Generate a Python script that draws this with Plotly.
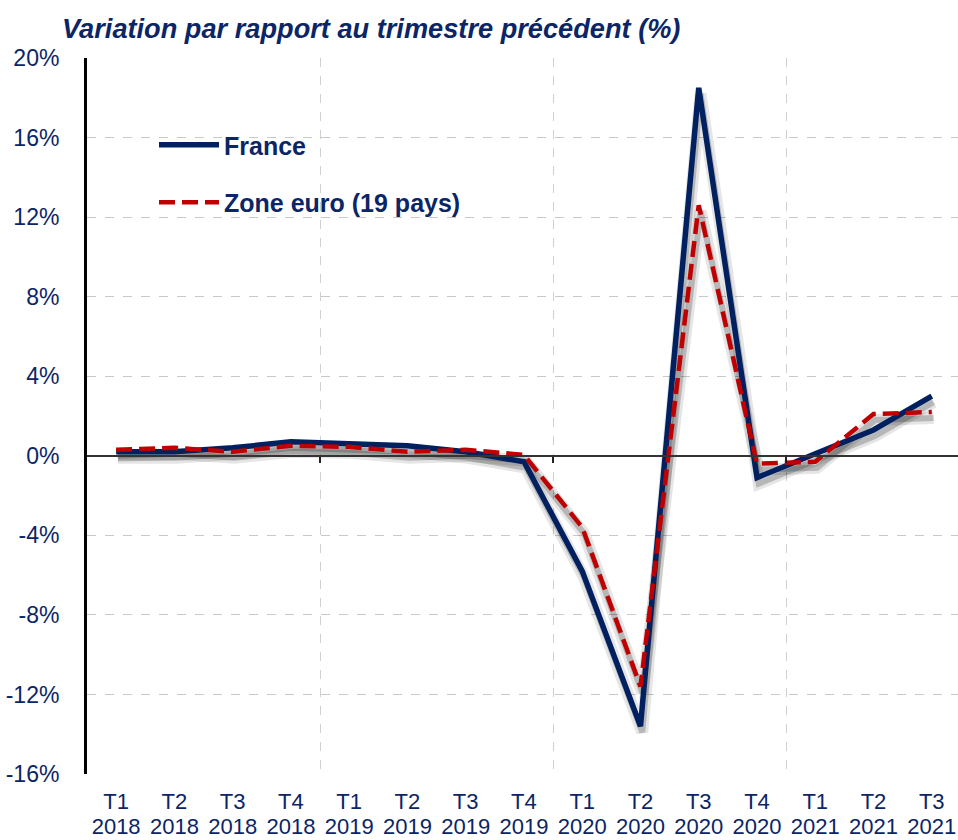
import plotly.graph_objects as go

quarters = ["T1", "T2", "T3", "T4", "T1", "T2", "T3", "T4",
            "T1", "T2", "T3", "T4", "T1", "T2", "T3"]
years = ["2018", "2018", "2018", "2018", "2019", "2019", "2019", "2019",
         "2020", "2020", "2020", "2020", "2021", "2021", "2021"]
france = [0.2, 0.2, 0.4, 0.7, 0.6, 0.5, 0.2, -0.3,
          -5.8, -13.6, 18.5, -1.1, 0.1, 1.3, 3.0]
zone_euro = [0.3, 0.4, 0.2, 0.5, 0.45, 0.2, 0.3, 0.05,
             -3.6, -11.6, 12.6, -0.4, -0.3, 2.1, 2.2]
y_ticks = [-16, -12, -8, -4, 0, 4, 8, 12, 16, 20]
year_bounds = [3.5, 7.5, 11.5]

x = list(range(len(quarters)))

NAVY = "#0B2566"
LINE_NAVY = "#002060"
RED = "#C00000"
FONT = "Liberation Sans, Arial, sans-serif"

fig = go.Figure()

# soft drop shadows (two layers to imitate blur)
for vals in (france, zone_euro):
    fig.add_trace(go.Scatter(
        x=[v + 0.03 for v in x], y=[v - 0.3 for v in vals], mode="lines",
        line=dict(color="rgba(0,0,0,0.10)", width=12), hoverinfo="skip",
        showlegend=False))
    fig.add_trace(go.Scatter(
        x=[v + 0.03 for v in x], y=[v - 0.3 for v in vals], mode="lines",
        line=dict(color="rgba(0,0,0,0.2)", width=6), hoverinfo="skip",
        showlegend=False))

fig.add_trace(go.Scatter(
    x=x, y=france, mode="lines", name="<b>France</b>", legendgroup="a",
    line=dict(color=LINE_NAVY, width=5.5)))
fig.add_trace(go.Scatter(
    x=x, y=zone_euro, mode="lines", name="<b>Zone euro (19 pays)</b>",
    legendgroup="b",
    line=dict(color=RED, width=4.5, dash="16px,7px")))

# invisible traces for the auxiliary axes
fig.add_trace(go.Scatter(x=[x[0]], y=[0], xaxis="x2", mode="markers",
                         marker=dict(opacity=0), showlegend=False,
                         hoverinfo="skip"))
fig.add_trace(go.Scatter(x=[x[0]], y=[0], xaxis="x3", mode="markers",
                         marker=dict(opacity=0), showlegend=False,
                         hoverinfo="skip"))

xrange = [-0.5, 14.45]
yrange = [-16, 20]

W, H = 958, 840
fig.update_layout(
    width=W, height=H,
    margin=dict(l=87, r=0, t=58, b=66, autoexpand=False),
    plot_bgcolor="white", paper_bgcolor="white",
    font=dict(family=FONT, color=NAVY, size=19),
    title=dict(text="<b><i>Variation par rapport au trimestre précédent (%)</i></b>",
               x=62 / W, xanchor="left", y=1 - 28 / H, yanchor="middle",
               font=dict(family=FONT, size=27.2, color=NAVY)),
    xaxis=dict(range=xrange, tickmode="array", tickvals=x, ticktext=quarters,
               showgrid=False, zeroline=False, showline=False, ticks="",
               ticklabelstandoff=12, automargin=False,
               tickfont=dict(size=22, color=NAVY)),
    xaxis3=dict(range=xrange, overlaying="x", anchor="y", side="bottom",
                tickmode="array", tickvals=x, ticktext=years,
                showgrid=False, zeroline=False, showline=False, ticks="",
                ticklabelstandoff=37, automargin=False,
                tickfont=dict(size=22, color=NAVY)),
    xaxis2=dict(range=xrange, overlaying="x", anchor="free",
                position=(0 - yrange[0]) / (yrange[1] - yrange[0]),
                side="bottom", showline=True, linecolor="#333", linewidth=2,
                tickmode="array", tickvals=year_bounds, ticks="outside",
                ticklen=6, tickwidth=2, tickcolor="#222", automargin=False,
                showticklabels=False, showgrid=True, gridcolor="#D0D0D0",
                griddash="dash", gridwidth=1, zeroline=False),
    yaxis=dict(range=yrange, tickmode="array", tickvals=y_ticks,
               ticktext=[f"{v}%" for v in y_ticks],
               showgrid=True, gridcolor="#C8C8C8", griddash="dash", gridwidth=1,
               zeroline=False, showline=True, linecolor="black", linewidth=3,
               ticks="", ticklabelstandoff=20, automargin=False,
               tickfont=dict(size=23, color=NAVY)),
    legend=dict(x=(154 - 87) / 871, y=1 - (122 - 58) / 716,
                xanchor="left", yanchor="top", bgcolor="rgba(0,0,0,0)",
                font=dict(size=25, color=NAVY, family=FONT),
                tracegroupgap=22, itemwidth=60,
                traceorder="grouped"),
)

fig.write_html(
    "out.html",
    config={"displayModeBar": False},
    post_script="document.body.style.margin='0';document.body.style.overflow='hidden';",
)
